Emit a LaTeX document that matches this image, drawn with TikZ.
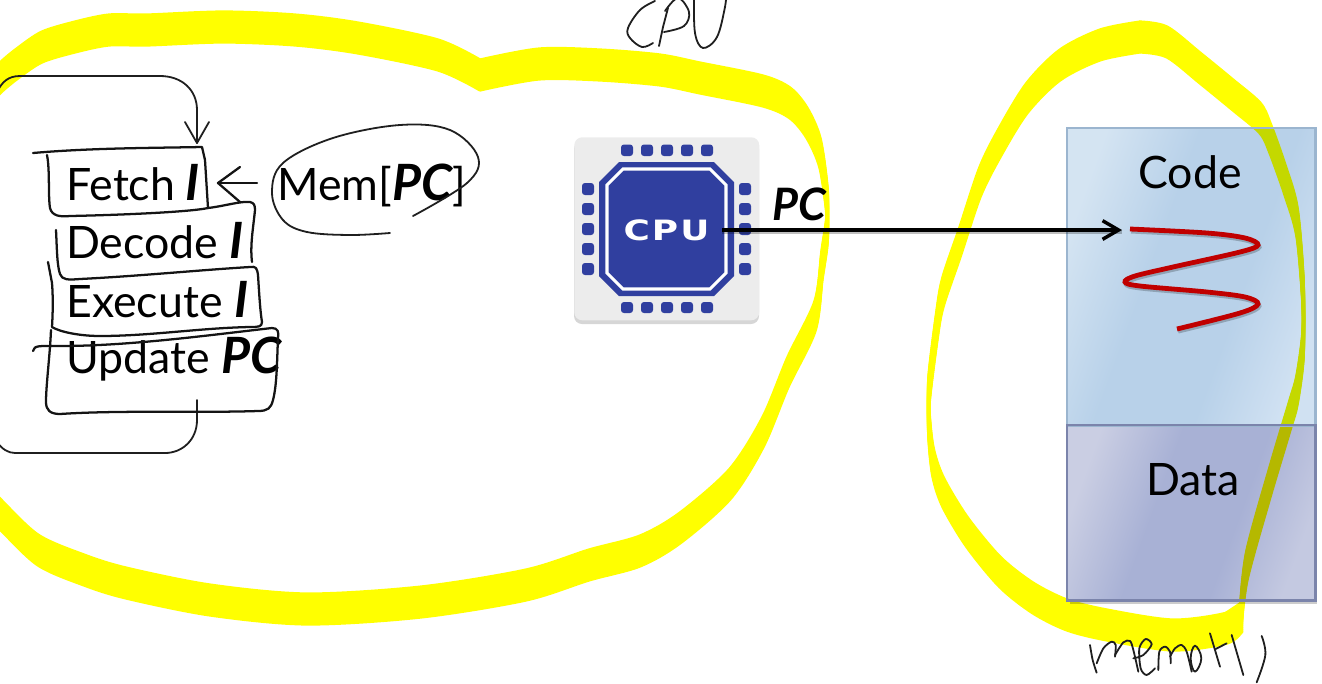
\documentclass[tikz,border=0pt]{standalone}
\usepackage{fontspec}
\setmainfont{Lato}
\newfontfamily\chipfont[LetterSpace=6]{DejaVu Sans}
\usetikzlibrary{arrows.meta,calc}
\definecolor{chipblue}{HTML}{303F9F}
\definecolor{hlyellow}{HTML}{FFFF00}
\definecolor{hlcode}{HTML}{C4D800}
\definecolor{hldata}{HTML}{B5B800}
\definecolor{CodeL}{HTML}{D4E4F2}
\definecolor{CodeM}{HTML}{B8D1E9}
\definecolor{CodeR}{HTML}{D0E1F2}
\definecolor{CodeB}{HTML}{9BB5CF}
\definecolor{DataL}{HTML}{CACEE3}
\definecolor{DataM}{HTML}{A8B1D5}
\definecolor{DataR}{HTML}{C4C9E1}
\definecolor{DataB}{HTML}{7B84AB}
\pgfdeclarehorizontalshading{codeshade}{100bp}{color(0bp)=(CodeL); color(25bp)=(CodeL); color(42bp)=(CodeM); color(60bp)=(CodeM); color(75bp)=(CodeR); color(100bp)=(CodeR)}
\pgfdeclarehorizontalshading{datashade}{100bp}{color(0bp)=(DataL); color(25bp)=(DataL); color(42bp)=(DataM); color(60bp)=(DataM); color(75bp)=(DataR); color(100bp)=(DataR)}
\tikzset{
  lbl/.style={inner sep=0pt,anchor=base west,font=\fontsize{33.5}{36}\selectfont,text=black},
  ink/.style={draw=black!92,line width=1.7pt,line cap=round,line join=round},
  thinink/.style={draw=black!88,line width=1.35pt,line cap=round,line join=round},
  band/.style={line width=2.4pt,line cap=round,line join=round},
  pin/.style={fill=chipblue,rounded corners=2.2pt,draw=none},
  shadowline/.style={draw=black,opacity=.25,line width=2.8pt},
  membox/.style={inner sep=0pt,anchor=north west,minimum width=186pt},
  boxedge/.style={line width=1.8pt},
}
\newcommand{\bi}[1]{{\fontsize{37.5}{36}\selectfont\bfseries\itshape #1}}
\newcommand{\hlbands}[1]{%
  \foreach \s in {0,2,...,30}{
    \begin{scope}[shift={(0,\s)}]
    \draw[band,draw=#1] plot[smooth,tension=.5] coordinates {(-15,80)(0,63)(18,48)(42,32)(75,22)(109,15)(147,15)(223,12)(295,15)(358,23)(438,40)(480,60)};
    \draw[band,draw=#1] plot[smooth,tension=.5] coordinates {(480,60)(539,49)(600,50)(660,55)(700,63)(763,76)(790,88)(807,108)(820,138)(827,186)(827,215)(822,250)(815,301)(788,357)(763,417)(730,469)(680,513)(640,536)(589,550)(526,570)(421,587)(307,594)(210,585)(126,568)(84,555)(38,535)(0,499)(-20,478)};
    \draw[band,draw=#1] plot[smooth,tension=.5] coordinates {(1140,22)(1167,27)(1200,53)(1233,80)(1260,103)(1270,123)(1285,165)(1297,207)(1303,277)(1303,330)(1297,375)(1290,400)(1270,467)(1247,550)(1241,600)};
    \draw[band,draw=#1] plot[smooth,tension=.5] coordinates {(1242,601)(1227,613)(1173,620)(1107,610)(1067,600)(1033,583)(1000,557)(967,517)(943,477)(933,447)(929,410)(929,375)(937,310)(943,277)(960,227)(980,167)(1000,127)(1027,83)(1060,50)(1100,30)(1140,22)};
    \end{scope}
  }%
}
\begin{document}
\begin{tikzpicture}[x=.75pt,y=-.75pt]
\useasboundingbox (0,0) rectangle (1322,683);
% yellow highlighter
\hlbands{hlyellow}
\fill[hlyellow] (1225,612) -- (1243,600) -- (1243,633) -- (1212,646) -- cycle;
% memory block
\fill[black,opacity=.2] (1070,131) rectangle (1317,604);
\node[membox,minimum height=222.75pt,shading=codeshade,shading angle=-20] (codebox) at (1067,128) {};
\node[membox,minimum height=131.25pt,shading=datashade,shading angle=-20] (databox) at (1067,425) {};
\begin{scope}
  \clip (codebox.south west) rectangle (codebox.north east);
  \hlbands{hlcode}
\end{scope}
\begin{scope}
  \clip (databox.south west) rectangle (databox.north east);
  \hlbands{hldata}
\end{scope}
\draw[boxedge,draw=CodeB] (codebox.south west) rectangle (codebox.north east);
\draw[boxedge,draw=DataB] (databox.south west) rectangle (databox.north east);
\node[lbl] (codelabel) at (1138,188) {Code};
\node[lbl] (datalabel) at (1146,495) {Data};
% chip icon
\fill[black,opacity=.16,rounded corners=6pt] (574,141) rectangle (759,324);
\node[inner sep=0pt,anchor=north west,minimum width=138.75pt,minimum height=137.25pt,fill=black!7.5,rounded corners=6pt] (chipbg) at (574,137) {};
\fill[chipblue] (619,162) -- (714,162) -- (734,182) -- (734,276) -- (714,296) -- (619,296) -- (599,276) -- (599,182) -- cycle;
\draw[white,line width=2.3pt] (623,169) -- (710,169) -- (726,185) -- (726,273) -- (710,289) -- (623,289) -- (607,273) -- (607,185) -- cycle;
\foreach \c in {627,647,667,687,707}{
  \fill[pin] (\c-6,144.5) rectangle (\c+6,156);
  \fill[pin] (\c-6,302) rectangle (\c+6,313);
}
\foreach \c in {189,209,229,249,269}{
  \fill[pin] (582,\c-6) rectangle (594,\c+6);
  \fill[pin] (739,\c-6) rectangle (751,\c+6);
}
\node[inner sep=0pt,anchor=base,text=white,font=\chipfont\bfseries\fontsize{21}{24}\selectfont] (chiptext) at (666.5,240) {\scalebox{1.28}[1]{CPU}};
% program counter arrow
\coordinate (pcstart) at (722,230);
\coordinate (pcend) at (1122,230);
\draw[shadowline] ([yshift=-1.3pt]pcstart) -- ([yshift=-1.3pt]pcend);
\draw[black,line width=2.6pt,-{Straight Barb[length=12pt,width=14pt,line width=2.6pt]}] (pcstart) -- (pcend);
\node[lbl,font=\fontsize{33.5}{36}\selectfont\bfseries\itshape] (pclabel) at (772,220) {PC};
% red trace
\draw[draw=black,opacity=.22,line width=3.6pt,yshift=-1.6pt,xshift=.8pt] plot[smooth,tension=.55] coordinates {(1130,229)(1207,233)(1245,238)(1258,245)(1240,252)(1173,267)(1135,276)(1125,282)(1140,286)(1207,292)(1245,297)(1258,304)(1240,313)(1177,329)};
\draw[draw={rgb,255:red,192;green,0;blue,0},line width=3.6pt] plot[smooth,tension=.55] coordinates {(1130,229)(1207,233)(1245,238)(1258,245)(1240,252)(1173,267)(1135,276)(1125,282)(1140,286)(1207,292)(1245,297)(1258,304)(1240,313)(1177,329)};
% step labels
\node[lbl] (fetch) at (66,200) {Fetch\hspace{-.5pt} \bi{I}};
\node[lbl] (decode) at (66,258) {Decode \bi{I}};
\node[lbl] (execute) at (66,317) {Execute \bi{I}};
\node[lbl] (update) at (66,373) {Update \bi{PC}};
\node[lbl] (mem) at (277,200) {Mem[\bi{PC}]};
% hand drawn loop
\coordinate (looptop) at (197,143);
\coordinate (loopbottom) at (197,400);
\draw[thinink] (-3,92) .. controls (2,82) and (8,76) .. (20,76) -- (160,76) .. controls (182,76) and (197,90) .. (197,110) -- (looptop);
\draw[thinink] (185,122) -- (looptop) -- (209,122);
\draw[thinink] (loopbottom) -- (197,420) .. controls (197,440) and (182,453) .. (165,453) -- (15,453) .. controls (8,453) and (2,449) .. (-3,442);
% hand drawn boxes
\draw[ink] (33,153) .. controls (90,148) and (150,148) .. (202,147) -- (205,160) -- (208,208);
\draw[ink] (47,155) .. controls (50,170) and (48,195) .. (50,208) .. controls (52,216) and (60,217) .. (70,216) .. controls (120,215) and (190,212) .. (208,208) .. controls (225,206) and (240,201) .. (250,202) .. controls (254,203) and (255,205) .. (255,210) .. controls (253,230) and (250,245) .. (252,262);
\draw[ink] (56,230) .. controls (57,250) and (57,265) .. (60,274) .. controls (62,280) and (68,280) .. (80,279) .. controls (140,276) and (200,270) .. (250,267) .. controls (256,266) and (257,268) .. (258,275) .. controls (259,290) and (260,310) .. (262,322) .. controls (262,327) and (258,327) .. (250,327) .. controls (200,328) and (150,336) .. (100,336) .. controls (80,336) and (60,332) .. (52,327) .. controls (53,310) and (53,295) .. (52,283) -- (48,262);
\draw[ink] (33,351) .. controls (34,345) and (40,346) .. (60,346) .. controls (130,346) and (210,335) .. (272,328) .. controls (278,328) and (279,332) .. (278,338) .. controls (277,360) and (277,385) .. (273,400) .. controls (271,408) and (268,411) .. (258,411) .. controls (200,413) and (120,410) .. (60,414) .. controls (50,414) and (46,410) .. (46,402) .. controls (46,385) and (50,355) .. (51,330);
% small arrow into Fetch
\coordinate (memleft) at (257,183);
\coordinate (fetchright) at (218,183);
\draw[ink] (memleft) -- (fetchright);
\draw[ink] (240,167) -- (fetchright) -- (240,202);
% circle round Mem[PC]
\draw[thinink] plot[smooth,tension=.6] coordinates {(390,233)(350,235)(307,232)(283,220)(272,193)(283,163)(333,138)(400,125)(450,130)(478,157)(467,183)(413,216)};
% handwritten CPU
\draw[thinink] plot[smooth,tension=.6] coordinates {(655,1)(640,10)(628,28)(630,38)(642,47)(653,43)};
\draw[thinink] (668,8) -- (663,27) -- (659,46);
\draw[thinink] plot[smooth,tension=.6] coordinates {(665,11)(678,-2)(689,12)(684,26)(664,32)};
\draw[thinink] plot[smooth,tension=.6] coordinates {(694,-3)(695,33)(703,48)(717,37)(725,7)(726,-5)};
% handwritten memory
\begin{scope}[shift={(1080,625)},x=.25pt,y=-.25pt]
\draw[thinink] plot[smooth,tension=.5] coordinates {(30,60)(38,105)(50,143)};
\draw[thinink] plot[smooth,tension=.5] coordinates {(50,115)(70,70)(95,50)(107,60)(105,95)};
\draw[thinink] plot[smooth,tension=.5] coordinates {(105,90)(130,52)(150,48)(160,75)(175,140)};
\draw[thinink] plot[smooth,tension=.5] coordinates {(160,100)(190,90)(215,58)(197,42)(178,70)(182,130)(200,150)(225,130)};
\draw[thinink] plot[smooth,tension=.5] coordinates {(235,135)(238,80)(255,65)(270,80)(272,115)};
\draw[thinink] plot[smooth,tension=.5] coordinates {(270,95)(285,70)(305,60)(320,80)(335,140)};
\draw[thinink] plot[smooth cycle,tension=.7] coordinates {(345,62)(332,100)(345,140)(364,100)};
\draw[thinink] (390,25) -- (420,125);
\draw[thinink] (407,72) -- (440,55);
\draw[thinink] (455,30) -- (490,150);
\draw[thinink] plot[smooth,tension=.6] coordinates {(545,33)(556,90)(530,172)};
\end{scope}
\end{tikzpicture}
\end{document}
